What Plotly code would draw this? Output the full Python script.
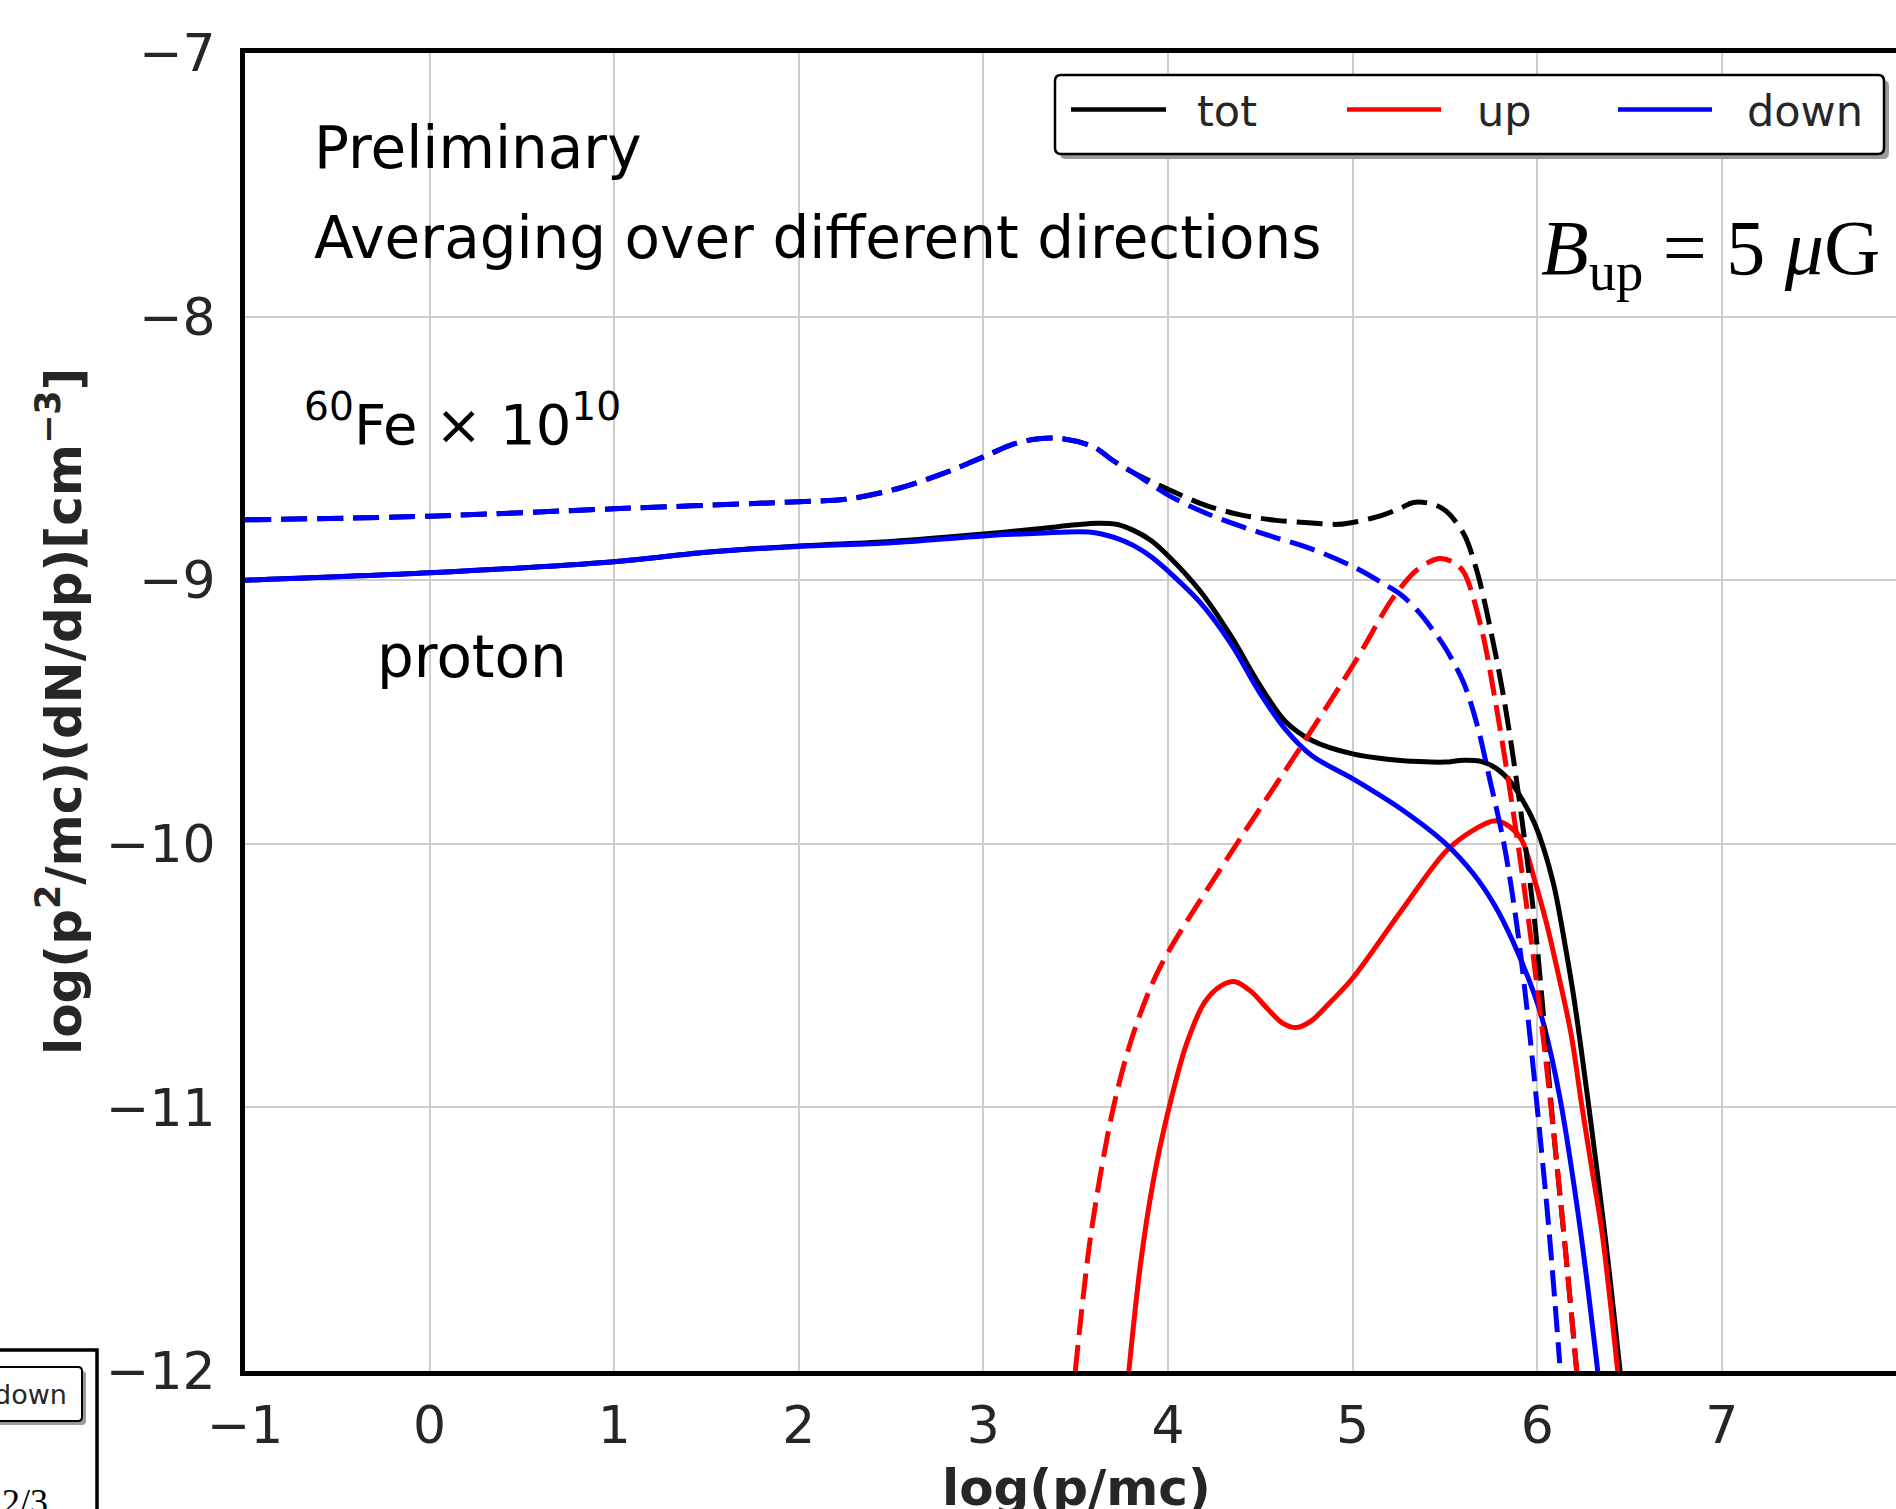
import plotly.graph_objects as go

# ---------------- data ----------------
# proton, solid lines
x_tot_p = [-1, 0, 1, 1.5, 2, 2.5, 3, 3.3, 3.5, 3.62, 3.72, 3.81, 3.91, 4.006, 4.175, 4.345, 4.49,
           4.635, 4.78, 5.0, 5.2, 5.36, 5.5, 5.602, 5.7, 5.78, 5.85, 5.9, 5.989, 6.086, 6.15, 6.2,
           6.28, 6.37, 6.449]
y_tot_p = [-9.0, -8.972, -8.93, -8.894, -8.87, -8.853, -8.825, -8.805, -8.79, -8.784, -8.788, -8.81,
           -8.85, -8.911, -9.042, -9.216, -9.39, -9.535, -9.608, -9.659, -9.68, -9.688, -9.69, -9.683,
           -9.688, -9.715, -9.76, -9.81, -9.928, -10.145, -10.38, -10.59, -11.0, -11.5, -12.0]

x_up_p = [3.788, 3.85, 3.92, 4.006, 4.1, 4.2, 4.285, 4.363, 4.45, 4.538, 4.62, 4.697, 4.78, 4.853,
          5.0, 5.264, 5.505, 5.65, 5.771, 5.85, 5.916, 5.989, 6.05, 6.1, 6.183, 6.243, 6.3, 6.352,
          6.436]
y_up_p = [-12.0, -11.6, -11.28, -11.0, -10.76, -10.6, -10.54, -10.523, -10.56, -10.625, -10.68,
          -10.697, -10.67, -10.62, -10.51, -10.254, -10.029, -9.95, -9.913, -9.935, -9.986, -10.145,
          -10.3, -10.45, -10.72, -11.0, -11.25, -11.478, -12.0]

x_down_p = [-1, 0, 1, 1.5, 2, 2.5, 3, 3.3, 3.571, 3.716, 3.812, 3.909, 4.006, 4.175, 4.345, 4.49,
            4.635, 4.78, 5.0, 5.264, 5.505, 5.65, 5.771, 5.868, 5.989, 6.037, 6.122, 6.231, 6.328]
y_down_p = [-9.0, -8.972, -8.93, -8.894, -8.872, -8.858, -8.832, -8.822, -8.817, -8.839, -8.868,
            -8.911, -8.969, -9.085, -9.245, -9.419, -9.565, -9.666, -9.753, -9.869, -10.0, -10.11,
            -10.235, -10.37, -10.58, -10.69, -10.96, -11.45, -12.0]

# 60Fe x 1e10, dashed lines
x_tot_fe = [-1, 0, 1, 2, 2.255, 2.517, 2.78, 3.0, 3.17, 3.3, 3.43, 3.6, 3.7, 3.812, 4.006, 4.2,
            4.393, 4.586, 4.78, 4.925, 5.022, 5.167, 5.264, 5.33, 5.433, 5.505, 5.602, 5.675, 5.747,
            5.82, 5.88, 5.94, 5.99, 6.03, 6.09, 6.15, 6.214]
y_tot_fe = [-8.771, -8.757, -8.729, -8.702, -8.693, -8.656, -8.596, -8.532, -8.482, -8.463, -8.463,
            -8.495, -8.545, -8.592, -8.657, -8.715, -8.752, -8.773, -8.783, -8.788, -8.778, -8.752,
            -8.725, -8.705, -8.711, -8.737, -8.824, -8.969, -9.187, -9.45, -9.72, -10.03, -10.32,
            -10.62, -11.1, -11.52, -12.0]

x_up_fe = [3.498, 3.583, 3.704, 3.813, 3.957, 4.345, 4.731, 5.022, 5.215, 5.35, 5.469, 5.54, 5.602,
           5.699, 5.771, 5.844, 5.91, 5.97, 6.03, 6.09, 6.15, 6.214]
y_up_fe = [-12.0, -11.478, -11.0, -10.719, -10.468, -10.03, -9.62, -9.30, -9.071, -8.96, -8.918,
           -8.93, -8.969, -9.187, -9.45, -9.76, -10.07, -10.38, -10.72, -11.1, -11.52, -12.0]

x_down_fe = [-1, 0, 1, 2, 2.255, 2.517, 2.78, 3.0, 3.17, 3.3, 3.43, 3.6, 3.7, 3.812, 4.006, 4.2,
             4.393, 4.586, 4.78, 5.022, 5.167, 5.264, 5.36, 5.433, 5.505, 5.602, 5.675, 5.747, 5.82,
             5.892, 5.953, 6.0, 6.062, 6.122]
y_down_fe = [-8.771, -8.757, -8.729, -8.702, -8.693, -8.656, -8.596, -8.532, -8.482, -8.463, -8.463,
             -8.495, -8.545, -8.592, -8.679, -8.744, -8.795, -8.839, -8.882, -8.955, -9.013, -9.056,
             -9.122, -9.187, -9.26, -9.39, -9.55, -9.768, -10.0, -10.32, -10.68, -11.0, -11.45,
             -11.97]

x_ticks = [-1, 0, 1, 2, 3, 4, 5, 6, 7]
y_ticks = [-12, -11, -10, -9, -8, -7]
legend_names = ["tot", "up", "down"]
legend_colors = ["#000000", "#ff0000", "#0000ff"]

# ---------------- layout geometry ----------------
W, H = 1896, 1509
ML, MT, MB, MR = 245, 53, 138, 0
PW = W - ML - MR
PH = H - MT - MB
UNIT_X = 184.6
x_max = -1 + PW / UNIT_X
TXT = "#262626"
LW = 5
DASH = "26px,10px"


def px(xp):
    return (xp - ML) / PW


def py(yp):
    return (H - MB - yp) / PH


def rrect(x0, y0, x1, y1, r):
    X0, X1, Y0, Y1 = px(x0), px(x1), py(y0), py(y1)
    rx, ry = r / PW, r / PH
    return (f"M{X0+rx},{Y0} L{X1-rx},{Y0} Q{X1},{Y0} {X1},{Y0-ry} L{X1},{Y1+ry} "
            f"Q{X1},{Y1} {X1-rx},{Y1} L{X0+rx},{Y1} Q{X0},{Y1} {X0},{Y1+ry} "
            f"L{X0},{Y0-ry} Q{X0},{Y0} {X0+rx},{Y0} Z")


def minus(v):
    return str(v).replace("-", "\u2212")


fig = go.Figure()

series = [
    (x_tot_p, y_tot_p, "#000000", "solid"),
    (x_up_p, y_up_p, "#ff0000", "solid"),
    (x_down_p, y_down_p, "#0000ff", "solid"),
    (x_tot_fe, y_tot_fe, "#000000", DASH),
    (x_up_fe, y_up_fe, "#ff0000", DASH),
    (x_down_fe, y_down_fe, "#0000ff", DASH),
]
for xs, ys, c, d in series:
    fig.add_trace(go.Scatter(x=xs, y=ys, mode="lines",
                             line=dict(color=c, width=LW, dash=d, shape="spline", smoothing=0.9),
                             showlegend=False, hoverinfo="skip"))

shapes = []
annots = []

# manual legend (matplotlib-like, rounded with shadow)
shapes.append(dict(type="path", xref="paper", yref="paper", path=rrect(1060, 80, 1889, 159, 6),
                   fillcolor="#9a9a9a", line=dict(width=0), layer="above"))
shapes.append(dict(type="path", xref="paper", yref="paper", path=rrect(1055, 75, 1884, 154, 6),
                   fillcolor="white", line=dict(color="black", width=2.5), layer="above"))
leg_line_x = [(1071, 1166), (1347, 1441), (1618, 1712)]
leg_text_x = [1195, 1475, 1745]
for (a, b), tx, name, col in zip(leg_line_x, leg_text_x, legend_names, legend_colors):
    shapes.append(dict(type="line", xref="paper", yref="paper", x0=px(a), x1=px(b),
                       y0=py(109.5), y1=py(109.5), line=dict(color=col, width=4.5), layer="above"))
    annots.append(dict(text=name, x=px(tx), y=py(111), xanchor="left", yanchor="middle",
                       font=dict(family="DejaVu Sans", size=43, color=TXT)))

# fragment of neighbouring panel (bottom-left)
shapes.append(dict(type="path", xref="paper", yref="paper",
                   path=f"M{px(-20)},{py(1350)} L{px(97)},{py(1350)} L{px(97)},{py(1530)}",
                   line=dict(color="black", width=3.5), layer="above"))
shapes.append(dict(type="path", xref="paper", yref="paper", path=rrect(-10, 1371, 86, 1425, 4),
                   fillcolor="#9a9a9a", line=dict(width=0), layer="above"))
shapes.append(dict(type="path", xref="paper", yref="paper", path=rrect(-14, 1367, 82, 1421, 4),
                   fillcolor="white", line=dict(color="black", width=2), layer="above"))
annots.append(dict(text="down", x=px(69), y=py(1394), xanchor="right", yanchor="middle",
                   font=dict(family="DejaVu Sans", size=27, color=TXT)))
annots.append(dict(text="2/3", x=px(50), y=py(1480), xanchor="right", yanchor="top",
                   font=dict(family="Liberation Serif", size=36, color="black")))

# text labels inside plot
annots += [
    dict(text="Preliminary", x=px(312), y=py(148), xanchor="left", yanchor="middle",
         font=dict(family="DejaVu Sans", size=58, color="black")),
    dict(text="Averaging over different directions", x=px(312), y=py(238), xanchor="left",
         yanchor="middle", font=dict(family="DejaVu Sans", size=58, color="black")),
    dict(text="<sup>60</sup>Fe \u00d7 10<sup>10</sup>", x=px(302), y=py(420), xanchor="left",
         yanchor="middle", font=dict(family="DejaVu Sans", size=56, color="black")),
    dict(text="proton", x=px(375), y=py(657), xanchor="left", yanchor="middle",
         font=dict(family="DejaVu Sans", size=58, color="black")),
    dict(text="<i>B</i><sub>up</sub>\u00a0=\u00a05\u00a0<i>\u03bc</i>G", x=px(1882), y=py(253),
         xanchor="right", yanchor="middle",
         font=dict(family="Liberation Serif", size=78, color="black")),
    # axis titles
    dict(text="log(p/mc)", x=px(1076), y=py(1457), xanchor="center", yanchor="top",
         font=dict(family="DejaVu Sans", size=50, color=TXT, weight="bold")),
    dict(text="log(p<sup>2</sup>/mc)(dN/dp)[cm<sup>\u22123</sup>]", x=px(60), y=0.5,
         xanchor="center", yanchor="middle", textangle=-90,
         font=dict(family="DejaVu Sans", size=50, color=TXT, weight="bold")),
]
for a in annots:
    a.setdefault("xref", "paper")
    a.setdefault("yref", "paper")
    a["showarrow"] = False

fig.update_layout(
    width=W, height=H,
    margin=dict(l=ML, r=MR, t=MT, b=MB, pad=0),
    paper_bgcolor="white", plot_bgcolor="white",
    showlegend=False,
    shapes=shapes, annotations=annots,
    xaxis=dict(range=[-1, x_max], tickvals=x_ticks, ticktext=[minus(v) for v in x_ticks],
               tickfont=dict(family="DejaVu Sans", size=52, color=TXT),
               showgrid=True, gridcolor="#cccccc", gridwidth=2, zeroline=False,
               showline=True, linecolor="black", linewidth=5, mirror=True, ticks="",
               ticklabelstandoff=5),
    yaxis=dict(range=[-12, -7], tickvals=y_ticks, ticktext=[minus(v) for v in y_ticks],
               tickfont=dict(family="DejaVu Sans", size=52, color=TXT),
               showgrid=True, gridcolor="#cccccc", gridwidth=2, zeroline=False,
               showline=True, linecolor="black", linewidth=5, mirror=False, ticks="",
               ticklabelstandoff=14),
)

fig.write_html("out.html", config={"displayModeBar": False},
               post_script="document.body.style.margin='0';document.body.style.overflow='hidden';")
